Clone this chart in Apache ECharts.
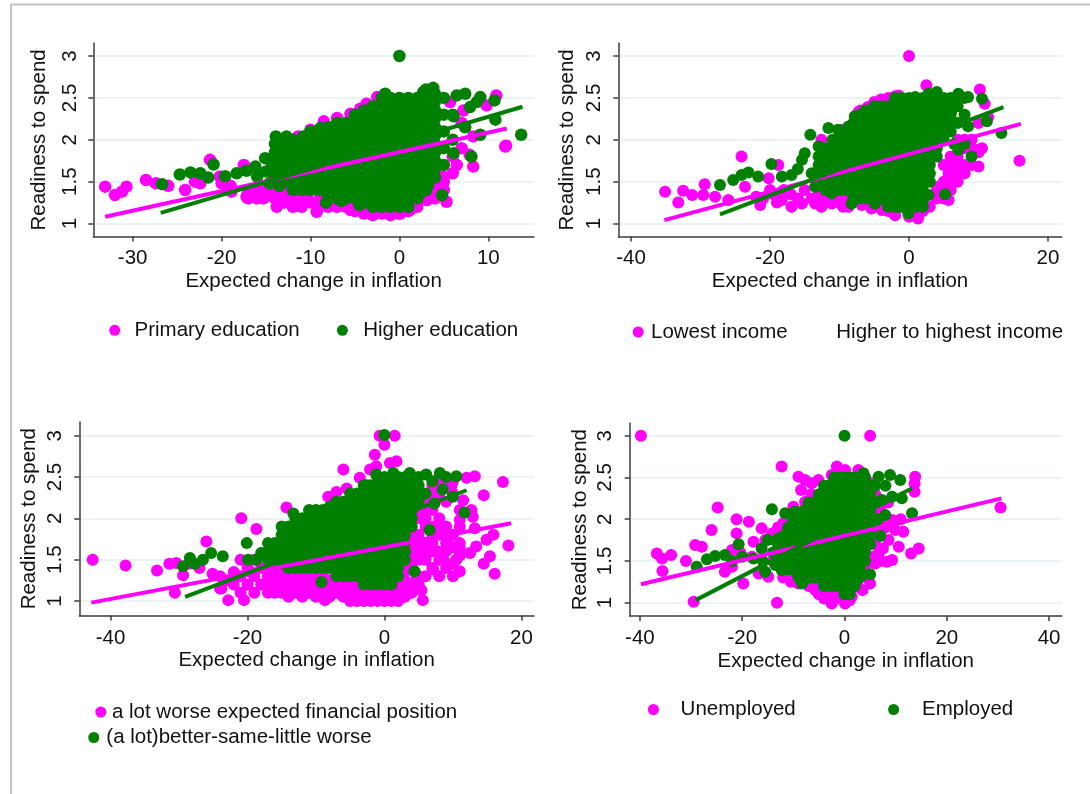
<!DOCTYPE html>
<html>
<head>
<meta charset="utf-8">
<script src="https://cdn.jsdelivr.net/npm/echarts@6/dist/echarts.min.js"></script>
<style>
  html, body { margin: 0; padding: 0; background: #fff; }
  #main { width: 1090px; height: 794px; }
</style>
</head>
<body>
<div id="main"></div>
<script>
// 颜色与字体
var MAGENTA = '#ff00ff';
var GREEN = '#008000';
var FONT = '"Liberation Sans", Arial, sans-serif';
var FS = 20.5;

// ---------- 刻度 ----------
var yTicks = [1, 1.5, 2, 2.5, 3];
var xTicks1 = [-30, -20, -10, 0, 10];
var xTicks2 = [-40, -20, 0, 20];
var xTicks3 = [-40, -20, 0, 20];
var xTicks4 = [-40, -20, 0, 20, 40];

// ---------- 图1: 教育 ----------
// 散点 [x, y]；列数据 [x, y1, y2, ...]
var eduPrimaryPts = [
  [-33.1,1.44],[-32,1.34],[-31.2,1.38],[-30.7,1.44],[-28.5,1.52],[-27.4,1.48],[-26,1.45],[-24.1,1.4],
  [-23,1.5],[-22.4,1.48],[-21.3,1.76],[-20.2,1.56],[-20,1.48],[-19,1.45],[-18.9,1.38],[-17.5,1.7],
  [-17.2,1.32],[-16,1.4],[-15.3,1.3],[-14,1.3],[-13.8,1.2],[-12.5,1.45],[-11.5,1.28],[-10.4,1.32],
  [-9.3,1.14],[-7.8,1.36],[-5.5,1.16],[-3.7,1.18],[-2.5,1.14],[-1.05,1.14],[0.1,1.12],[1.2,1.16],
  [3.1,1.28],[3.8,1.44],[5.3,1.26],[4.9,1.56],[6.45,1.7],[8.3,1.68],[7.9,1.82],[8.3,2.04],[9.8,2.41],
  [10.9,2.53],[11.9,1.92],[12,1.93],[7.2,2.35],[5.7,2.45],[-11.4,2.04],[-10,2.12],[-8.5,2.22],
  [-7,2.26],[-5.5,2.31],[-4.4,2.37],[-3.7,2.43],[-2.5,2.51]
];
var eduPrimaryCols = [
  [-17,1.3,1.4],[-16,1.3],[-15,1.35,1.45],[-14,1.4],[-13,1.25,1.35],[-12,1.2,1.3],[-11,1.2,1.3],
  [-10,1.25],[-9,1.2,1.3],[-8,1.2],[-7,1.2],[-6,1.2],[-5,1.15,1.25],[-4,1.12],[-3,1.1,1.15],
  [-2,1.12],[-1,1.1],[0,1.12],[1,1.15],[2,1.2],[3,1.3,1.4],[4,1.3,1.4],[5,1.4,1.5],[6,1.6,1.8],[7,1.9,2.2]
];
var eduHigherPts = [
  [0,3.0],[-26.7,1.47],[-24.7,1.585],[-23.5,1.61],[-22.4,1.6],[-21.5,1.55],[-20.9,1.705],[-19.6,1.565],
  [-18.3,1.6],[-17.2,1.63],[-16.2,1.68],[-16,1.56],[-15.1,1.78],[-15,1.62],[-14.6,1.48],[-13.9,2.04],
  [-12.7,2.04],[-10.8,2.04],[-8.9,2.14],[-7.2,2.12],[-8.25,1.25],[-1.6,2.55],[2.7,2.57],[3.8,2.62],
  [5,2.5],[5,2.3],[5,2.1],[5,1.9],[5,1.7],[6,2.0],[6,2.3],[6.1,2.28],[6.45,2.53],[7.4,2.55],[9.1,2.51],
  [10.7,2.47],[7.95,2.39],[8.7,2.45],[7.4,2.15],[10.8,2.24],[9.1,2.06],[6.1,1.84],[8.1,1.8],[4.8,1.34],
  [2.3,1.36],[3.2,1.45],[1.95,1.6],[13.7,2.06],[-14.5,1.75],[-13.5,1.45],[-6.5,1.27],[-4.5,1.22]
];
var eduHigherCols = [
  [-14,1.55,1.65,1.75,1.85,1.95],
  [-13,1.5,1.6,1.7,1.8,1.9,2.0],
  [-12,1.4,1.5,1.6,1.7,1.8,1.9,2.0],
  [-11,1.4,1.5,1.6,1.7,1.8,1.9,2.0],
  [-10,1.4,1.5,1.6,1.7,1.8,1.9,2.0,2.1],
  [-9,1.4,1.5,1.6,1.7,1.8,1.9,2.0,2.1],
  [-8,1.35,1.45,1.55,1.65,1.75,1.85,1.95,2.05,2.15],
  [-7,1.3,1.4,1.5,1.6,1.7,1.8,1.9,2.0,2.1,2.2],
  [-6,1.3,1.4,1.5,1.6,1.7,1.8,1.9,2.0,2.1,2.2],
  [-5,1.3,1.4,1.5,1.6,1.7,1.8,1.9,2.0,2.1,2.2,2.3],
  [-4,1.25,1.35,1.45,1.55,1.65,1.75,1.85,1.95,2.05,2.15,2.25,2.35],
  [-3,1.2,1.3,1.4,1.5,1.6,1.7,1.8,1.9,2.0,2.1,2.2,2.3,2.4],
  [-2,1.2,1.3,1.4,1.5,1.6,1.7,1.8,1.9,2.0,2.1,2.2,2.3,2.4,2.5],
  [-1,1.2,1.3,1.4,1.5,1.6,1.7,1.8,1.9,2.0,2.1,2.2,2.3,2.4,2.5],
  [0,1.2,1.3,1.4,1.5,1.6,1.7,1.8,1.9,2.0,2.1,2.2,2.3,2.4,2.5],
  [1,1.2,1.3,1.4,1.5,1.6,1.7,1.8,1.9,2.0,2.1,2.2,2.3,2.4,2.5],
  [2,1.3,1.4,1.5,1.6,1.7,1.8,1.9,2.0,2.1,2.2,2.3,2.4,2.5],
  [3,1.4,1.5,1.6,1.7,1.8,1.9,2.0,2.1,2.2,2.3,2.4,2.5,2.6],
  [4,1.55,1.65,1.75,1.85,1.95,2.05,2.15,2.25,2.35,2.45,2.55]
];
var eduPrimaryFit = [[-33.1,1.08],[12.07,2.135]];
var eduHigherFit = [[-26.85,1.127],[13.85,2.394]];

// ---------- 图2: 收入 ----------
var incLowPts = [
  [-35.1,1.38],[-33.2,1.25],[-32.5,1.39],[-31.2,1.34],[-29.4,1.47],[-29.6,1.34],[-27.9,1.32],[-26,1.28],
  [-24.1,1.8],[-23.6,1.44],[-22,1.32],[-21.4,1.22],[-21,1.3],[-20.2,1.54],[-20,1.4],[-19.5,1.35],[-19,1.25],
  [-18.8,1.7],[-18.3,1.28],[-18,1.4],[-17,1.35],[-16.9,1.2],[-16,1.3],[-15.4,1.24],[-15,1.4],[-14,1.3],
  [-13.5,1.24],[-13,1.35],[-12.6,1.2],[-12,1.3],[-11.1,1.24],[-10.5,1.3],[-9.5,1.2],[-9.2,1.32],[-8.7,1.2],
  [-12.6,2.0],[-9.7,2.12],[-7.3,2.33],[-5.9,2.39],[-1.5,2.53],
  [0,3.0],[2.5,2.65],[10.2,2.6],[10.9,2.43],[11.4,2.27],[15.9,1.75],[10.5,1.9],[9.5,1.88],[10,1.68],
  [5.7,1.6],[6.1,1.48],[4.2,1.44],[5.7,1.28],[3,1.2],[1.3,1.06],[0,1.08],[-2,1.1],[-3.9,1.16],
  [-5.4,1.18],[-6.8,1.22],[-7,2.35],[-6,2.38],[-5,2.45],[-4,2.48],[-3,2.5],[-2,2.52]
];
var incLowCols = [
  [4,1.3,1.4],[5,1.3,1.4,1.5,1.7],[6,1.4,1.6,1.7,1.8],[7,1.5,1.6,1.7,1.8,2.0],[8,1.6,1.7,1.9,2.0],
  [9,1.7,2.0],[10,1.85,2.2],[-10,1.25],[-7,1.25],[-6,1.25],[-4,1.2],[-3,1.15],[-2,1.15],[1,1.12],[2,1.15]
];
var incHighPts = [
  [-27.2,1.46],[-25.3,1.52],[-24.1,1.58],[-23.1,1.61],[-21.7,1.56],[-19.8,1.71],[-18.3,1.56],[-16.9,1.58],
  [-16,1.65],[-15.4,1.76],[-15,1.84],[-14.2,2.06],[-14,1.6],[-13,1.92],[-11.6,2.14],[-10.2,2.12],
  [-8.7,2.16],[-8.25,1.24],[-7.8,2.28],[-6.3,2.35],[-4.4,2.39],[-1.5,2.49],[0.9,2.51],[2.8,2.55],
  [4,2.57],[7.1,2.55],[8.5,2.51],[10.5,2.49],[11.2,2.22],[13.3,2.08],[9,1.8],[7.1,1.88],[2.8,1.34],
  [5.2,1.35],[5.7,2.12],[6.1,2.35],[8.5,2.16],[-0.1,1.12],[-1.5,1.2],[-4.9,1.24],[-7.8,1.36],
  [-11.1,1.36],[-13.5,1.44],[6.5,1.95],[8,1.95]
];
var incHighCols = [
  [-13,1.5,1.6,1.7,1.8],
  [-12,1.4,1.5,1.6,1.7,1.8,1.9],
  [-11,1.4,1.5,1.6,1.7,1.8,1.9,2.0],
  [-10,1.4,1.5,1.6,1.7,1.8,1.9,2.0,2.1],
  [-9,1.4,1.5,1.6,1.7,1.8,1.9,2.0,2.1],
  [-8,1.3,1.4,1.5,1.6,1.7,1.8,1.9,2.0,2.1,2.2],
  [-7,1.3,1.4,1.5,1.6,1.7,1.8,1.9,2.0,2.1,2.2,2.3],
  [-6,1.3,1.4,1.5,1.6,1.7,1.8,1.9,2.0,2.1,2.2,2.3],
  [-5,1.3,1.4,1.5,1.6,1.7,1.8,1.9,2.0,2.1,2.2,2.3,2.4],
  [-4,1.3,1.4,1.5,1.6,1.7,1.8,1.9,2.0,2.1,2.2,2.3,2.4],
  [-3,1.2,1.3,1.4,1.5,1.6,1.7,1.8,1.9,2.0,2.1,2.2,2.3,2.4],
  [-2,1.2,1.3,1.4,1.5,1.6,1.7,1.8,1.9,2.0,2.1,2.2,2.3,2.4,2.5],
  [-1,1.2,1.3,1.4,1.5,1.6,1.7,1.8,1.9,2.0,2.1,2.2,2.3,2.4,2.5],
  [0,1.2,1.3,1.4,1.5,1.6,1.7,1.8,1.9,2.0,2.1,2.2,2.3,2.4,2.5],
  [1,1.2,1.3,1.4,1.5,1.6,1.7,1.8,1.9,2.0,2.1,2.2,2.3,2.4,2.5],
  [2,1.2,1.3,1.4,1.5,1.6,1.7,1.8,1.9,2.0,2.1,2.2,2.3,2.4,2.5],
  [3,1.5,1.6,1.7,1.8,1.9,2.0,2.1,2.2,2.3,2.4,2.5],
  [4,1.8,1.9,2.0,2.1,2.2,2.3,2.4,2.5],
  [5,2.0,2.1,2.2,2.3,2.4,2.5],
  [6,2.1,2.2,2.3,2.4,2.5],
  [7,2.2,2.4,2.5],
  [8,2.3,2.5]
];
var incLowFit = [[-35.2,1.04],[16.1,2.19]];
var incHighFit = [[-27.2,1.11],[13.6,2.39]];

// ---------- 图3: 财务状况预期 ----------
var finWorsePts = [
  [-42.6,1.5],[-37.8,1.43],[-33.2,1.37],[-31.4,1.45],[-30.4,1.46],[-30.6,1.1],[-29.4,1.31],[-28.5,1.45],
  [-27,1.4],[-26,1.72],[-25.1,1.33],[-23.8,1.15],[-22.8,1.01],[-20.9,2.0],[-20.5,1.01],[-19.5,1.35],
  [-18.7,1.87],[-16,1.55],[-14.3,2.13],[-8.7,1.01],[-6,2.59],[-1.4,2.77],[-0.7,3.0],[1.5,3.0],[0,2.89],
  [0.8,2.67],[5.6,1.01],[5.4,1.13],[17.3,2.44],[18.1,1.67],[16.1,1.33],[14.5,1.45],[11,1.36],[13.2,2.51],
  [12,2.49],[14.5,2.28],[12.7,2.1],[11.5,2.22],[11,1.98],[13.2,1.88],[15.9,1.8],[14.9,1.74],[12.5,1.58],
  [13.4,1.66],[10.5,1.5],[8.6,1.5],[7.1,1.38],[11,1.64],[9.5,1.78],[8.6,2.44],[9.8,2.4],[7.8,2.32],
  [6.6,2.28],[12.9,2.02],[15.4,1.54],[10,1.3],[4.7,1.3],[-8.2,2.26],[-7,2.32],[-5.5,2.36],[-3.6,2.49],
  [-2.1,2.59],[-1.2,2.63],[1.75,2.69]
];
var finWorseCols = [
  [-24,1.15,1.3],[-23,1.25],[-22,1.2,1.35],[-21,1.1,1.3,1.5],[-20,1.2,1.4],[-19,1.1,1.3,1.5],[-18,1.2,1.4],
  [-17,1.1,1.2,1.3,1.4],[-16,1.1,1.2,1.3,1.4,1.5],[-15,1.1,1.2,1.3,1.4],[-14,1.05,1.15,1.25,1.35],
  [-13,1.1,1.2,1.3],[-12,1.05,1.15,1.25,1.35],[-11,1.1,1.2,1.3],[-10,1.05,1.15,1.25,1.35],[-9,1.1,1.2,1.3],
  [-8,1.05,1.15,1.25],[-7,1.1,1.2],[-6,1.05,1.15,1.25],[-5,1.0,1.1,1.2],[-4,1.0,1.1,1.2],[-3,1.0,1.1],
  [-2,1.0,1.1],[-1,1.0,1.1],[0,1.0,1.1],[1,1.0,1.1,1.2],[2,1.0,1.1,1.2],[3,1.05,1.15,1.25,1.35,1.45],
  [4,1.1,1.2,1.4,1.5,1.6,1.7,1.8],[5,1.2,1.3,1.5,1.6,1.7,1.8,2.0,2.1],[6,1.3,1.5,1.6,1.7,1.9,2.0,2.1,2.2],
  [7,1.4,1.6,1.7,1.8,1.9,2.1,2.2,2.4],[8,1.3,1.5,1.6,1.8,1.9,2.0,2.3,2.5],[9,1.4,1.6,1.7,1.9,2.2,2.4],
  [10,1.45,1.65,1.8,2.3,2.45],[11,1.55,1.7,1.9,2.1]
];
var finBetterPts = [
  [0,3.01],[-29.4,1.42],[-28.4,1.52],[-27.7,1.45],[-26.5,1.5],[-25.3,1.58],[-23.6,1.54],[-20.1,1.7],
  [-19.9,1.5],[-18.7,1.5],[-18,1.58],[-16.7,1.66],[-15.8,1.66],[-15,1.45],[-13.3,2.06],[-10.9,2.08],
  [-9.4,2.04],[-8,2.14],[-9.2,1.23],[4.4,1.36],[-4.1,2.22],[-2.6,2.4],[-1.2,2.53],[1.3,2.55],[3.7,2.55],
  [6.1,2.53],[8.1,2.55],[10.5,2.51],[11.7,2.07],[10,2.26],[7.3,2.18],[6.6,1.86],[9,2.5],[7,2.45],
  [8.5,2.35],[6,2.3]
];
var finBetterCols = [
  [-17,1.5,1.6,1.7],
  [-16,1.5,1.6,1.7],
  [-15,1.5,1.6,1.7,1.8,1.9],
  [-14,1.4,1.5,1.6,1.7,1.8,1.9],
  [-13,1.4,1.5,1.6,1.7,1.8,1.9,2.0],
  [-12,1.4,1.5,1.6,1.7,1.8,1.9,2.0],
  [-11,1.4,1.5,1.6,1.7,1.8,1.9,2.0,2.1],
  [-10,1.4,1.5,1.6,1.7,1.8,1.9,2.0,2.1],
  [-9,1.4,1.5,1.6,1.7,1.8,1.9,2.0,2.1],
  [-8,1.4,1.5,1.6,1.7,1.8,1.9,2.0,2.1],
  [-7,1.3,1.4,1.5,1.6,1.7,1.8,1.9,2.0,2.1,2.2],
  [-6,1.3,1.4,1.5,1.6,1.7,1.8,1.9,2.0,2.1,2.2],
  [-5,1.3,1.4,1.5,1.6,1.7,1.8,1.9,2.0,2.1,2.2,2.3],
  [-4,1.3,1.4,1.5,1.6,1.7,1.8,1.9,2.0,2.1,2.2,2.3],
  [-3,1.2,1.3,1.4,1.5,1.6,1.7,1.8,1.9,2.0,2.1,2.2,2.3,2.4],
  [-2,1.2,1.3,1.4,1.5,1.6,1.7,1.8,1.9,2.0,2.1,2.2,2.3,2.4],
  [-1,1.2,1.3,1.4,1.5,1.6,1.7,1.8,1.9,2.0,2.1,2.2,2.3,2.4,2.5],
  [0,1.2,1.3,1.4,1.5,1.6,1.7,1.8,1.9,2.0,2.1,2.2,2.3,2.4,2.5],
  [1,1.2,1.3,1.4,1.5,1.6,1.7,1.8,1.9,2.0,2.1,2.2,2.3,2.4,2.5],
  [2,1.3,1.4,1.5,1.6,1.7,1.8,1.9,2.0,2.1,2.2,2.3,2.4,2.5],
  [3,1.5,1.6,1.7,1.8,1.9,2.0,2.1,2.2,2.3,2.4,2.5],
  [4,1.9,2.0,2.1,2.2,2.3,2.4,2.5],
  [5,2.2,2.3,2.4,2.5]
];
var finWorseFit = [[-42.8,0.98],[18.5,1.94]];
var finBetterFit = [[-29.1,1.05],[12.0,2.34]];

// ---------- 图4: 就业 ----------
var unempPts = [
  [-39.8,3.0],[5,3.0],[-12.3,2.63],[-1.5,2.63],[30.5,2.14],[-36.7,1.59],[-35.7,1.53],[-35.6,1.38],
  [-33.9,1.57],[-31,1.5],[-29.2,1.69],[-27.9,1.67],[-26,1.87],[-24.8,2.14],[-21.1,2.0],[-21.1,1.83],
  [-18.7,1.97],[-17.8,1.73],[-22,1.63],[-20.4,1.6],[-19.8,1.23],[-13.2,1.0],[-29.5,1.01],[-22,1.43],
  [-23.4,1.37],[-16.2,1.89],[-15.5,1.75],[-14.2,1.83],[13.8,2.51],[13.7,2.43],[13.7,2.33],[13,1.59],
  [14.5,1.65],[10.6,1.67],[9.3,1.51],[8.3,1.49],[9.3,1.99],[9.9,1.87],[8.6,1.75],[6.65,1.59],[6,1.47],
  [5,1.23],[4,1.43],[-2.5,0.99],[0.1,0.99],[-3.8,1.13],[-5.7,1.15],[-9,1.23],[-9.7,1.39],[1.4,1.07],
  [2.7,1.19],[-16.8,1.35],[-14.9,1.31],[-9,2.51],[-7.7,2.47],[-6.4,2.43],[-5.1,2.47],[-2.5,2.53],
  [0.1,2.59],[2.7,2.59],[5.3,2.43],[4,2.49],[-7.7,2.21],[-18.1,1.55],[-11,1.3],[-7,1.2],[3,1.3],
  [6,1.7],[11,2.0],[11.5,1.85],[-1,1.05],[1,1.03],[-4,1.05],[6,2.3],[7,2.1],[8.5,2.2],[5.5,2.2],
  [-8.5,2.35],[-6.5,2.3],[-12,1.95],[-11,2.0],[-10,2.15],[-13,1.9],[-14,1.5],[-12,1.3],[-10.5,1.25],
  [7,1.5],[7.5,1.65],[8,1.9],[7,2.0],[6,1.9],[5.5,1.55],[4.5,1.3],[3.5,1.15],[-5,1.1],[-6,1.2],[-2,1.1]
];
var empPts = [
  [0,3.0],[-28.9,1.43],[-26.9,1.52],[-25.3,1.56],[-23.4,1.57],[-22,1.5],[-20.7,1.7],[-20,1.55],
  [-17.8,1.53],[-16.2,1.65],[-16,1.5],[-15,1.75],[-14.2,2.12],[-14,1.6],[-13.5,1.45],[-12.9,1.77],
  [-11.6,2.07],[-9.7,2.09],[-12.3,1.39],[-15.5,1.37],[-8.3,1.23],[5,1.34],[2.7,1.59],[7.96,2.05],
  [7.3,2.23],[6.65,2.51],[8.9,2.53],[10.9,2.47],[13.2,2.07],[9.3,2.27],[11.2,2.25],[3.7,2.55],
  [7,1.8],[6.5,2.0],[8,2.4]
];
var empCols = [
  [-13,1.5,1.6,1.7],
  [-12,1.5,1.6,1.7,1.8],
  [-11,1.4,1.5,1.6,1.7,1.8,1.9],
  [-10,1.4,1.5,1.6,1.7,1.8,1.9,2.0],
  [-9,1.3,1.4,1.5,1.6,1.7,1.8,1.9,2.0],
  [-8,1.3,1.4,1.5,1.6,1.7,1.8,1.9,2.0,2.1],
  [-7,1.3,1.4,1.5,1.6,1.7,1.8,1.9,2.0,2.1,2.2],
  [-6,1.3,1.4,1.5,1.6,1.7,1.8,1.9,2.0,2.1,2.2],
  [-5,1.3,1.4,1.5,1.6,1.7,1.8,1.9,2.0,2.1,2.2,2.3],
  [-4,1.2,1.3,1.4,1.5,1.6,1.7,1.8,1.9,2.0,2.1,2.2,2.3,2.4],
  [-3,1.2,1.3,1.4,1.5,1.6,1.7,1.8,1.9,2.0,2.1,2.2,2.3,2.4],
  [-2,1.2,1.3,1.4,1.5,1.6,1.7,1.8,1.9,2.0,2.1,2.2,2.3,2.4,2.5],
  [-1,1.2,1.3,1.4,1.5,1.6,1.7,1.8,1.9,2.0,2.1,2.2,2.3,2.4,2.5],
  [0,1.1,1.2,1.3,1.4,1.5,1.6,1.7,1.8,1.9,2.0,2.1,2.2,2.3,2.4,2.5],
  [1,1.1,1.2,1.3,1.4,1.5,1.6,1.7,1.8,1.9,2.0,2.1,2.2,2.3,2.4,2.5],
  [2,1.2,1.3,1.4,1.5,1.6,1.7,1.8,1.9,2.0,2.1,2.2,2.3,2.4,2.5],
  [3,1.3,1.4,1.5,1.6,1.7,1.8,1.9,2.0,2.1,2.2,2.3,2.4,2.5],
  [4,1.5,1.6,1.7,1.8,1.9,2.0,2.1,2.2,2.3,2.4,2.5],
  [5,1.7,1.8,1.9,2.0,2.1,2.2,2.3,2.4],
  [6,2.0,2.2,2.4]
];
var unempFit = [[-39.8,1.22],[30.7,2.25]];
var empFit = [[-29.1,1.03],[13.2,2.37]];

// 列数据展开为点
function expand(cols) {
    var out = [];
    cols.forEach(function (c) {
        for (var i = 1; i < c.length; i++) out.push([c[0], c[i]]);
    });
    return out;
}

// 每个面板: 位置、坐标范围、系列
var panels = [
    { grid: { left: 93.3, top: 43.3, width: 440.7, height: 193.2 }, sym: 12.5,
      x: [-34.43, 15.14], y: [0.845, 3.152], xTicks: xTicks1, nameGap: 43, labelMargin: 12, xGap: 34, xMargin: 11,
      a: { name: 'Primary education', data: eduPrimaryPts.concat(expand(eduPrimaryCols)), fit: eduPrimaryFit },
      b: { name: 'Higher education', data: eduHigherPts.concat(expand(eduHigherCols)), fit: eduHigherFit } },
    { grid: { left: 618.3, top: 43.3, width: 443.5, height: 193.2 }, sym: 12,
      x: [-41.83, 21.99], y: [0.845, 3.152], xTicks: xTicks2, nameGap: 40, labelMargin: 13, xGap: 34, xMargin: 11,
      a: { name: 'Lowest income', data: incLowPts.concat(expand(incLowCols)), fit: incLowFit },
      b: { name: 'Higher to highest income', data: incHighPts.concat(expand(incHighCols)), fit: incHighFit } },
    { grid: { left: 79.3, top: 422, width: 454.7, height: 193.5 }, sym: 12,
      x: [-44.55, 21.84], y: [0.824, 3.166], xTicks: xTicks3, nameGap: 39, labelMargin: 13, xGap: 34.5, xMargin: 12,
      a: { name: 'a lot worse expected financial position', data: finWorsePts.concat(expand(finWorseCols)), fit: finWorseFit },
      b: { name: '(a lot)better-same-little worse', data: finBetterPts.concat(expand(finBetterCols)), fit: finBetterFit } },
    { grid: { left: 629.7, top: 423.3, width: 432.2, height: 192.7 }, sym: 12,
      x: [-42.0, 42.5], y: [0.84, 3.149], xTicks: xTicks4, nameGap: 39, labelMargin: 13.5, xGap: 34.5, xMargin: 12,
      a: { name: 'Unemployed', data: unempPts, fit: unempFit },
      b: { name: 'Employed', data: empPts.concat(expand(empCols)), fit: empFit } }
];

var AXIS_COLOR = '#3c3c3c';
var grids = [], xAxes = [], yAxes = [], series = [];

panels.forEach(function (p, i) {
    grids.push(p.grid);
    xAxes.push({
        type: 'value', gridIndex: i, min: p.x[0], max: p.x[1],
        name: 'Expected change in inflation', nameLocation: 'middle', nameGap: p.xGap,
        nameTextStyle: { fontFamily: FONT, fontSize: FS, color: '#111' },
        axisLine: { show: true, onZero: false, lineStyle: { color: AXIS_COLOR, width: 1.5 } },
        axisTick: { show: true, length: 5, customValues: p.xTicks, lineStyle: { color: AXIS_COLOR, width: 1.5 } },
        axisLabel: { customValues: p.xTicks, margin: p.xMargin, fontFamily: FONT, fontSize: FS, color: '#111' },
        splitLine: { show: false }
    });
    yAxes.push({
        type: 'value', gridIndex: i, min: p.y[0], max: p.y[1],
        name: 'Readiness to spend', nameLocation: 'middle', nameGap: p.nameGap, nameRotate: 90,
        nameTextStyle: { fontFamily: FONT, fontSize: FS, color: '#111' },
        axisLine: { show: true, onZero: false, lineStyle: { color: AXIS_COLOR, width: 1.5 } },
        axisTick: { show: true, length: 5, customValues: yTicks, lineStyle: { color: AXIS_COLOR, width: 1.5 } },
        axisLabel: { customValues: yTicks, rotate: 90, margin: p.labelMargin, fontFamily: FONT, fontSize: FS, color: '#111' },
        splitLine: { show: true, lineStyle: { color: '#e6eff2', width: 1.5 } }
    });
    series.push({
        type: 'scatter', name: p.a.name, xAxisIndex: i, yAxisIndex: i, data: p.a.data,
        symbolSize: p.sym, itemStyle: { color: MAGENTA, opacity: 1 }, z: 2
    });
    series.push({
        type: 'scatter', name: p.b.name, xAxisIndex: i, yAxisIndex: i, data: p.b.data,
        symbolSize: p.sym, itemStyle: { color: GREEN, opacity: 1 }, z: 3
    });
    series.push({
        type: 'line', name: p.a.name + ' fit', xAxisIndex: i, yAxisIndex: i, data: p.a.fit,
        symbol: 'none', lineStyle: { color: MAGENTA, width: 4 }, z: 4
    });
    series.push({
        type: 'line', name: p.b.name + ' fit', xAxisIndex: i, yAxisIndex: i, data: p.b.fit,
        symbol: 'none', lineStyle: { color: GREEN, width: 4 }, z: 5
    });
});

// 图例：每个条目单独定位
function legendItem(name, left, top, padLeft, hidden, extra) {
    var item = { name: name, icon: 'circle' };
    if (hidden) item.itemStyle = { opacity: 0 };
    return {
        data: [item], left: left, top: top, orient: 'horizontal', selectedMode: false,
        itemWidth: 11, itemHeight: 11, padding: 0,
        textStyle: { fontFamily: FONT, fontSize: FS, color: '#111', padding: extra || [0, 0, 0, padLeft] }
    };
}
var legends = [
    legendItem('Primary education', 109.2, 319.8, 9.3),
    legendItem('Higher education', 336.9, 319.8, 10.3),
    legendItem('Lowest income', 632.7, 321.5, 2.3),
    legendItem('Higher to highest income', 818.3, 321.5, 2, true),
    legendItem('a lot worse expected financial position', 95.3, 701.5, 0.6),
    legendItem('(a lot)better-same-little worse', 88.3, 727, 0, false, [0, 0, 7, 2]),
    legendItem('Unemployed', 647.9, 699, 16.7),
    legendItem('Employed', 888.1, 699, 18)
];

var myChart = echarts.init(document.getElementById('main'), null, { renderer: 'canvas' });
var option = {
    animation: false,
    backgroundColor: '#ffffff',
    grid: grids,
    xAxis: xAxes,
    yAxis: yAxes,
    legend: legends,
    series: series,
    graphic: [
        { type: 'line', shape: { x1: 10, y1: 4.5, x2: 1090, y2: 4.5 }, style: { stroke: '#c4c4c4', lineWidth: 2 }, silent: true },
        { type: 'line', shape: { x1: 11, y1: 4, x2: 11, y2: 794 }, style: { stroke: '#c4c4c4', lineWidth: 2 }, silent: true }
    ]
};
myChart.setOption(option);
</script>
</body>
</html>
